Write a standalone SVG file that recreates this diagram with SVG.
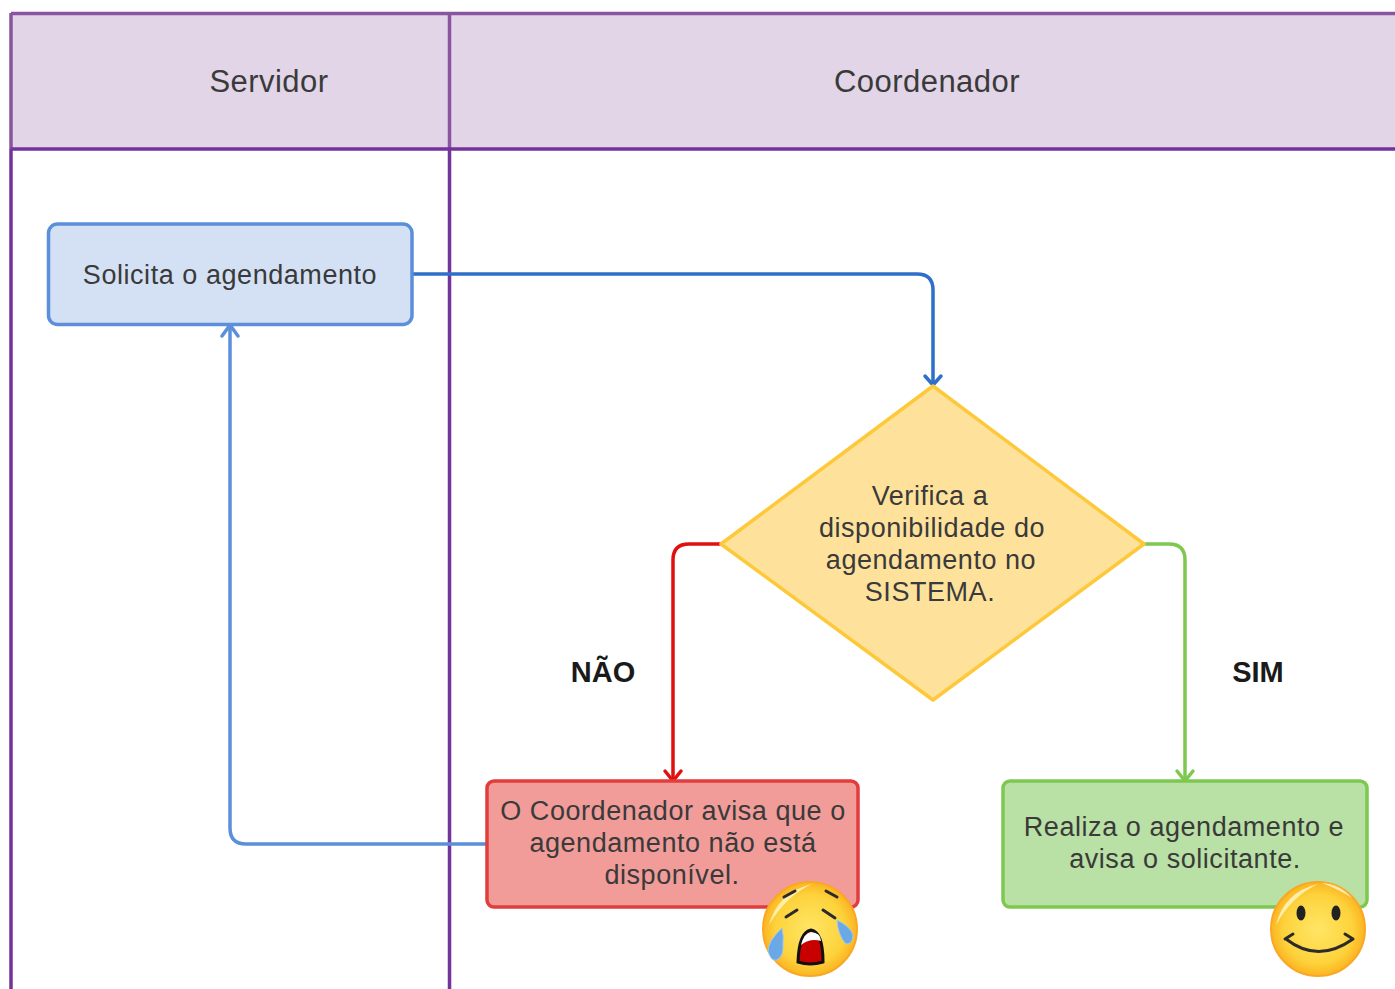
<svg xmlns="http://www.w3.org/2000/svg" width="1395" height="989" viewBox="0 0 1395 989">
<style>
text{font-family:"Liberation Sans",Arial,sans-serif;fill:#3a3a3a;text-anchor:middle}
.h{font-size:31px;letter-spacing:.45px}
.t{font-size:27px;letter-spacing:.55px}
.b{font-size:29px;font-weight:bold;fill:#1a1a1a}
.c{fill:none;stroke-width:3.500}
.a{fill:none;stroke-width:3.500;stroke-linecap:round;stroke-linejoin:round}
.ink{fill:none;stroke:#2b2b2b;stroke-width:3;stroke-linecap:round}
.tear{fill:#6aa9e6;stroke:#a9c9e8;stroke-width:1}
</style>
<defs>
<radialGradient id="fy" cx="50%" cy="50%" r="52%"><stop offset="0" stop-color="#ffe566"/><stop offset=".7" stop-color="#fdd33c"/><stop offset="1" stop-color="#fbb01e"/></radialGradient>
</defs>
<rect width="1395" height="989" fill="#fff"/>
<g id="swimlanes">
<rect x="11" y="13" width="1386" height="136" fill="#e1d5e7"/>
<path fill="none" stroke="#8a559f" stroke-width="3.500" d="M1397 13.500H11M11 13V149M449.500 13V149"/>
<path fill="none" stroke="#74339a" stroke-width="3.500" d="M11 149H1397M11 149V991M449.500 149V991"/>
</g>
<g id="connectors">
<path class="c" stroke="#2f6fc9" d="M412 274H917Q933 274 933 290V384"/>
<path class="a" stroke="#2f6fc9" d="M925 376L933 385L941 376"/>
<path class="c" stroke="#5b8fd9" d="M487 844H246Q230 844 230 828V326"/>
<path class="a" stroke="#5b8fd9" d="M222 336L230 325L238 336"/>
<path class="c" stroke="#e01010" d="M721 544H689Q673 544 673 560V780"/>
<path class="a" stroke="#e01010" d="M665 771L673 781L681 771"/>
<path class="c" stroke="#7ec850" d="M1144 544H1169Q1185 544 1185 560V780"/>
<path class="a" stroke="#7ec850" d="M1177 771L1185 781L1193 771"/>
</g>
<text class="h" x="269" y="92">Servidor</text>
<text class="h" x="927" y="92">Coordenador</text>
<g id="solicita">
<rect x="48.500" y="224" width="363.500" height="100.500" rx="9" fill="#d4e1f4" stroke="#5b8fd9" stroke-width="3.500"/>
<text class="t" x="230" y="284">Solicita o agendamento</text>
</g>
<g id="verifica">
<path d="M933 386L1144 544L933 700L721 544Z" fill="#fee29c" stroke="#fdc93a" stroke-width="3.500" stroke-linejoin="round"/>
<text class="t" x="930" y="505">Verifica a</text>
<text class="t" x="932" y="537">disponibilidade do</text>
<text class="t" x="931" y="569">agendamento no</text>
<text class="t" x="930" y="601">SISTEMA.</text>
</g>
<g id="nao">
<rect x="487" y="781" width="371" height="126" rx="7" fill="#f19c99" stroke="#e23d3d" stroke-width="3.500"/>
<text class="t" x="673" y="820">O Coordenador avisa que o</text>
<text class="t" x="673" y="852">agendamento não está</text>
<text class="t" x="672" y="884">disponível.</text>
</g>
<g id="sim">
<rect x="1003" y="781" width="364" height="126" rx="7" fill="#b9e0a5" stroke="#7ec850" stroke-width="3.500"/>
<text class="t" x="1184" y="836">Realiza o agendamento e</text>
<text class="t" x="1185" y="868">avisa o solicitante.</text>
</g>
<text class="b" x="603" y="682">NÃO</text>
<text class="b" x="1258" y="682">SIM</text>
<g id="emoji-cry">
<circle cx="810" cy="929" r="47" fill="url(#fy)" stroke="#f9a825" stroke-width="2"/>
<path d="M769 925Q778 892 812 884Q786 896 769 925Z" fill="#fff7c8" opacity=".8"/>
<path class="ink" d="M784 897L795 891M826 891L837 897M786 917L797 910M823 910L835 918"/>
<path class="tear" d="M782 928Q768 941 768 951Q771 962 777 960Q784 956 783 945Q784 936 782 928Z"/>
<path class="tear" d="M837 920Q838 936 846 944Q853 944 853 935Q851 927 837 920Z"/>
<path d="M798 962Q799 932 811 930Q823 932 823 962Q810 966 798 962Z" fill="#c80000" stroke="#111" stroke-width="3"/>
<path d="M801 945Q804 933 811 932Q821 933 821 941Q810 938 801 945Z" fill="#fff"/>
</g>
<g id="emoji-smile">
<circle cx="1318" cy="929" r="47" fill="url(#fy)" stroke="#f9a825" stroke-width="2"/>
<path d="M1276 925Q1284 892 1318 884Q1292 896 1276 925ZM1322 883Q1340 884 1352 898Q1340 890 1322 883Z" fill="#fff7c8" opacity=".8"/>
<ellipse cx="1301" cy="913" rx="4.500" ry="7.500" fill="#222"/>
<ellipse cx="1336" cy="913" rx="4.500" ry="7.500" fill="#222"/>
<path class="ink" d="M1286 939Q1318 964 1353 939M1285 939L1293 934M1353 939L1345 934"/>
</g>
</svg>
